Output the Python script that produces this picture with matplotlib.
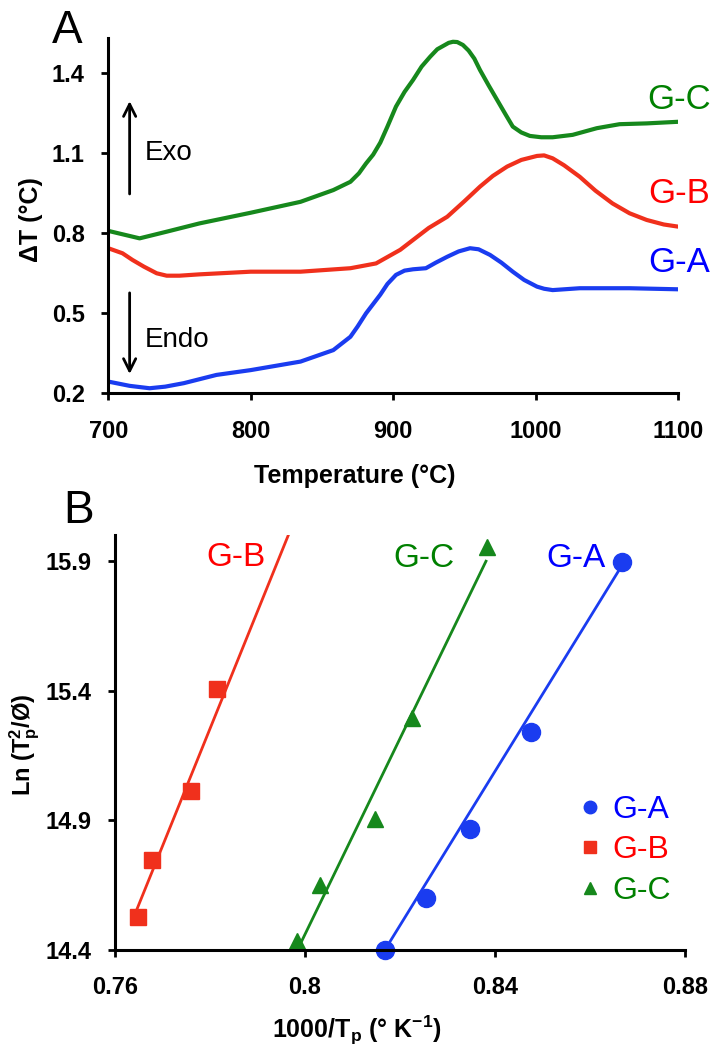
import matplotlib
matplotlib.use("Agg")
import matplotlib.pyplot as plt
from matplotlib.lines import Line2D

plt.rcParams['font.family'] = ['Liberation Sans', 'DejaVu Sans']
plt.rcParams['mathtext.fontset'] = 'custom'
plt.rcParams['mathtext.rm'] = 'Liberation Sans'
plt.rcParams['mathtext.bf'] = 'Liberation Sans:bold'
plt.rcParams['mathtext.it'] = 'Liberation Sans:italic'

# ---- panel A: DTA curves ----
ga_T = [700, 715, 729, 740, 753, 776, 800, 835, 858, 870, 875, 881, 886, 891,
        896, 902, 908, 914, 923, 930, 938, 946, 954, 960, 968, 976, 984, 992,
        1001, 1006, 1012, 1031, 1066, 1100]
ga_V = [0.244, 0.228, 0.219, 0.225, 0.238, 0.269, 0.287, 0.319, 0.362, 0.412,
        0.450, 0.500, 0.535, 0.570, 0.610, 0.644, 0.660, 0.665, 0.669, 0.690,
        0.712, 0.732, 0.744, 0.740, 0.719, 0.690, 0.656, 0.625, 0.600, 0.592,
        0.587, 0.594, 0.594, 0.590]

gb_T = [700, 710, 717, 725, 734, 741, 750, 764, 800, 835, 870, 888, 905, 914,
        925, 938, 950, 961, 970, 980, 990, 1001, 1006, 1012, 1020, 1031, 1042,
        1054, 1066, 1078, 1090, 1100]
gb_V = [0.744, 0.725, 0.700, 0.675, 0.650, 0.641, 0.641, 0.646, 0.656, 0.656,
        0.669, 0.687, 0.738, 0.775, 0.820, 0.862, 0.920, 0.975, 1.015, 1.050,
        1.075, 1.090, 1.092, 1.081, 1.055, 1.012, 0.960, 0.912, 0.875, 0.850,
        0.833, 0.825]

gc_T = [700, 722, 741, 764, 800, 835, 858, 870, 876, 881, 886, 891, 896, 902,
        908, 914, 920, 926, 931, 936, 939, 942, 945, 949, 953, 957, 961, 967,
        973, 979, 984, 990, 996, 1004, 1012, 1026, 1043, 1059, 1078, 1100]
gc_V = [0.809, 0.781, 0.806, 0.837, 0.877, 0.918, 0.962, 0.993, 1.025, 1.062,
        1.095, 1.140, 1.200, 1.275, 1.330, 1.375, 1.425, 1.462, 1.490, 1.505,
        1.514, 1.518, 1.517, 1.506, 1.485, 1.455, 1.412, 1.355, 1.300, 1.245,
        1.200, 1.178, 1.165, 1.160, 1.160, 1.169, 1.194, 1.209, 1.212, 1.218]

# ---- panel B: Kissinger plot points ----
ga_x = [0.8168, 0.8254, 0.8347, 0.8476, 0.8668]
ga_y = [14.40, 14.60, 14.865, 15.242, 15.894]
gb_x = [0.7649, 0.7677, 0.7761, 0.7814]
gb_y = [14.528, 14.747, 15.014, 15.405]
gc_x = [0.7983, 0.8032, 0.8147, 0.8225, 0.8383]
gc_y = [14.436, 14.651, 14.906, 15.293, 15.953]

# fitted lines, end points as drawn
ga_fit_x = [0.8168, 0.8668]
ga_fit_y = [14.40, 15.885]
gb_fit_x = [0.7647, 0.7965]
gb_fit_y = [14.561, 16.0]
gc_fit_x = [0.7989, 0.8381]
gc_fit_y = [14.419, 15.899]

names = ['G-A', 'G-B', 'G-C']
curve_cols = ['#1a3cf0', '#f0301c', '#16881c']
text_cols = ['#0000ff', '#ff0000', '#008000']

fig = plt.figure(figsize=(7.17, 10.48), dpi=100)
axA = fig.add_axes([0.151, 0.6247, 0.7946, 0.3390])
axB = fig.add_axes([0.1604, 0.0935, 0.7950, 0.3960])

for ax in (axA, axB):
    ax.spines['top'].set_visible(False)
    ax.spines['right'].set_visible(False)
    ax.spines['left'].set_linewidth(2.2)
    ax.spines['bottom'].set_linewidth(2.2)
    ax.tick_params(direction='out', length=5, width=2, labelsize=17)
    ax.tick_params(axis='y', pad=12)
    ax.tick_params(axis='x', pad=14)

# panel A
for T, V, c in zip([ga_T, gb_T, gc_T], [ga_V, gb_V, gc_V], curve_cols):
    axA.plot(T, V, color=c, lw=3, solid_joinstyle='round', solid_capstyle='round')
axA.set_xlim(700, 1100)
axA.set_ylim(0.2, 1.532)
axA.set_xticks([700, 800, 900, 1000, 1100])
axA.set_yticks([0.2, 0.5, 0.8, 1.1, 1.4])
axA.set_xticklabels(['700', '800', '900', '1000', '1100'], fontweight='bold')
axA.set_yticklabels(['0.2', '0.5', '0.8', '1.1', '1.4'], fontweight='bold')
axA.set_xlabel('Temperature (°C)', fontsize=18, fontweight='bold')
axA.set_ylabel('ΔT (°C)', fontsize=18, fontweight='bold')
axA.xaxis.set_label_coords(0.433, -0.199)
axA.yaxis.set_label_coords(-0.115, 0.49)

axA.text(1101, 1.30, 'G-C', color=text_cols[2], fontsize=25, ha='center', va='center')
axA.text(1101, 0.951, 'G-B', color=text_cols[1], fontsize=25, ha='center', va='center')
axA.text(1101, 0.689, 'G-A', color=text_cols[0], fontsize=25, ha='center', va='center')

axA.annotate('', xy=(715, 1.306), xytext=(715, 0.937),
             arrowprops=dict(arrowstyle='->', lw=2, color='black', mutation_scale=22))
axA.annotate('', xy=(715, 0.262), xytext=(715, 0.587),
             arrowprops=dict(arrowstyle='->', lw=2, color='black', mutation_scale=22))
axA.text(725.7, 1.101, 'Exo', fontsize=20, ha='left', va='center')
axA.text(725.7, 0.40, 'Endo', fontsize=20, ha='left', va='center')

# panel B
axB.plot(ga_fit_x, ga_fit_y, color=curve_cols[0], lw=2)
axB.plot(gb_fit_x, gb_fit_y, color=curve_cols[1], lw=2)
axB.plot(gc_fit_x, gc_fit_y, color=curve_cols[2], lw=2)
axB.plot(ga_x, ga_y, 'o', color=curve_cols[0], ms=13, clip_on=False)
axB.plot(gb_x, gb_y, 's', color=curve_cols[1], ms=12, clip_on=False)
axB.plot(gc_x, gc_y, '^', color=curve_cols[2], ms=12, clip_on=False)
axB.set_xlim(0.76, 0.88)
axB.set_ylim(14.4, 16.0)
axB.set_xticks([0.76, 0.80, 0.84, 0.88])
axB.set_yticks([14.4, 14.9, 15.4, 15.9])
axB.set_xticklabels(['0.76', '0.8', '0.84', '0.88'], fontweight='bold')
axB.set_yticklabels(['14.4', '14.9', '15.4', '15.9'], fontweight='bold')
axB.set_xlabel(r'1000/T$_{\mathbf{p}}$ (° K$^{\mathbf{-1}}$)', fontsize=18, fontweight='bold')
axB.set_ylabel(r'Ln (T$_{\mathbf{p}}^{\mathbf{2}}$/Ø)', fontsize=17, fontweight='bold')
axB.xaxis.set_label_coords(0.425, -0.154)
axB.yaxis.set_label_coords(-0.128, 0.494)

axB.text(0.7855, 15.912, 'G-B', color=text_cols[1], fontsize=24, ha='center', va='center')
axB.text(0.8251, 15.908, 'G-C', color=text_cols[2], fontsize=24, ha='center', va='center')
axB.text(0.8571, 15.908, 'G-A', color=text_cols[0], fontsize=24, ha='center', va='center')

handles = [Line2D([0], [0], ls='none', marker='o', color=curve_cols[0], ms=9),
           Line2D([0], [0], ls='none', marker='s', color=curve_cols[1], ms=8),
           Line2D([0], [0], ls='none', marker='^', color=curve_cols[2], ms=8)]
leg = axB.legend(handles, names, loc='center left', bbox_to_anchor=(0.82, 0.24),
                 frameon=False, fontsize=23, handlelength=0.5, handletextpad=0.45,
                 labelspacing=0.33, borderpad=0, borderaxespad=0)
for t, c in zip(leg.get_texts(), text_cols):
    t.set_color(c)

fig.text(0.094, 0.970, 'A', fontsize=33, ha='center', va='center')
fig.text(0.110, 0.512, 'B', fontsize=33, ha='center', va='center')

fig.savefig('out.png', dpi=100)
